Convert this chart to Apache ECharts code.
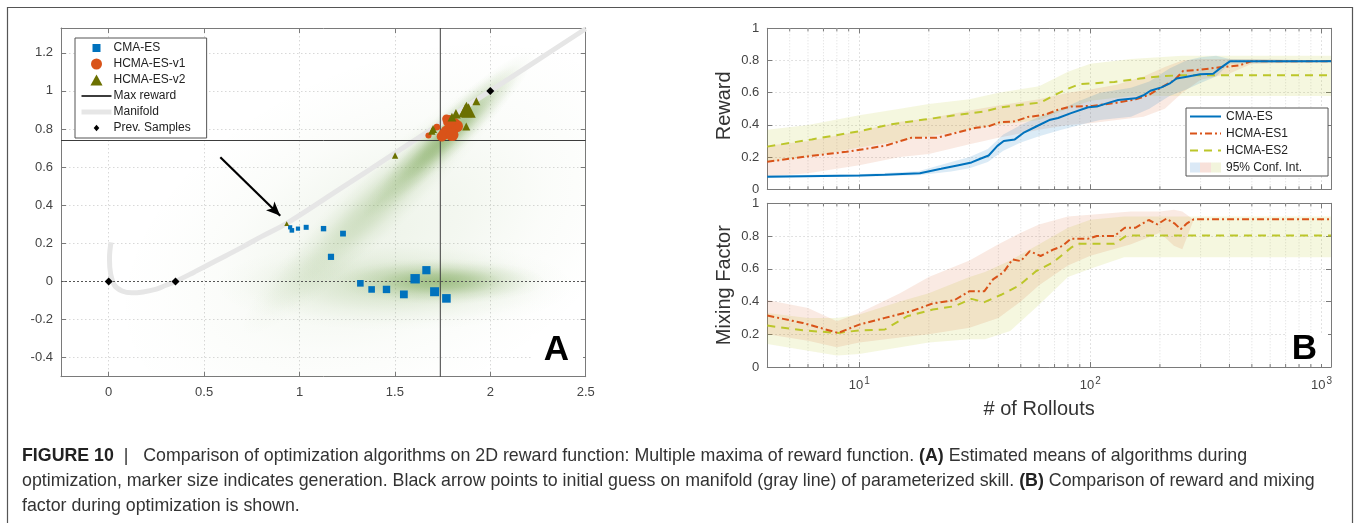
<!DOCTYPE html>
<html><head><meta charset="utf-8">
<script src="https://cdn.jsdelivr.net/npm/echarts@6/dist/echarts.min.js"></script>
<style>html,body{margin:0;padding:0;background:#fff}#c{width:1356px;height:523px}</style>
</head><body><div id="c"></div>
<script>
// ================= Panel A data =================
const xTicksA = [0, 0.5, 1, 1.5, 2, 2.5];
const yTicksA = [-0.4, -0.2, 0, 0.2, 0.4, 0.6, 0.8, 1, 1.2];
const cmaX = [0.951,0.960,0.992,1.035,1.126,1.228,1.165,1.319,1.378,1.456,1.547,1.606,1.665,1.708,1.770];
const cmaY = [0.284,0.268,0.277,0.284,0.277,0.251,0.129,-0.010,-0.042,-0.042,-0.068,0.014,0.059,-0.054,-0.089];
const cmaGen = [1,2,1,3,4,5,6,7,7,9,10,14,11,13,12];
const v1X = [1.676,1.720,1.746,1.770,1.790,1.800,1.815,1.770,1.760,1.825,1.800,1.785];
const v1Y = [0.766,0.810,0.761,0.854,0.820,0.790,0.830,0.790,0.775,0.815,0.770,0.840];
const v1Gen = [1,2,8,5,7,9,8,9,10,11,12,12];
const v2X = [0.933,1.501,1.694,1.700,1.799,1.820,1.874,1.927,1.869,1.886,1.875];
const v2Y = [0.303,0.661,0.789,0.800,0.862,0.880,0.813,0.946,0.897,0.897,0.905];
const v2Gen = [1,3,4,5,6,7,5,5,12,13,13];
const prevX = [0, 0.35, 2.0];
const prevY = [0, 0, 1.0];
const manifoldX = [0.012,0.004,0.010,0.030,0.070,0.120,0.180,0.250,0.300,0.350,0.450,0.570,0.700,0.800,0.933,1.200,1.500,1.750,2.000,2.250,2.500];
const manifoldY = [0.205,0.120,0.040,-0.020,-0.050,-0.060,-0.055,-0.040,-0.020,0.000,0.050,0.112,0.180,0.235,0.305,0.478,0.673,0.836,1.000,1.163,1.326];
const maxRewardX = 1.738, maxRewardY = 0.7356;
const arrowFrom = [0.585, 0.652], arrowTo = [0.899, 0.345];
// reward field (density shading): [cx, cy, spreadAlong, spreadAcross, angleDeg, weight]
const rewardField = [
  [1.45, 0.25, 1.50, 0.90, 25, 0.10],
  [1.50, -0.02, 0.95, 0.24, 0, 0.22],
  [1.74, 0.00, 0.55, 0.12, 0, 0.50],
  [1.42, 0.42, 1.00, 0.17, 44, 0.26],
  [1.78, 0.77, 0.62, 0.11, 44, 0.55]
];

// ================= Panel B data =================
const rolloutTicks = [10, 100, 1000];
const rolloutExp = ['1', '2', '3'];
const minorRollouts = [5,6,7,8,9,20,30,40,50,60,70,80,90,200,300,400,500,600,700,800,900];
const yTicksB = [0, 0.2, 0.4, 0.6, 0.8, 1];

const rollCma = [4,10,12.9,18.3,22.6,26.9,30.6,33.4,36.3,39.6,42.2,47.1,51.3,58.3,66.4,72.5,82.5,97.9,106.7,118.7,132,157,171,182,203,222,236,258,299,340,370,403,1100];
const rewardCma = [0.078,0.086,0.090,0.100,0.127,0.150,0.167,0.190,0.210,0.270,0.300,0.310,0.350,0.390,0.430,0.443,0.473,0.510,0.514,0.535,0.555,0.565,0.586,0.612,0.633,0.660,0.688,0.698,0.714,0.718,0.759,0.796,0.796];
const rollH1 = [4,6.23,8.8,12.9,16.8,21.7,26.9,32,36.3,40.5,47.1,53.5,63.6,72.5,82.5,102,127,157,179,203,231,252,299,370,440,500,1100];
const rewardH1 = [0.171,0.208,0.233,0.270,0.320,0.320,0.355,0.382,0.392,0.416,0.422,0.449,0.463,0.494,0.514,0.518,0.535,0.559,0.586,0.633,0.678,0.735,0.743,0.759,0.769,0.796,0.796];
const rollH2 = [4,6.23,10,13.5,19.1,26.9,34.8,41.4,60.9,72.5,80.7,89.8,127,164,203,241,1100];
const rewardH2 = [0.265,0.310,0.361,0.402,0.433,0.463,0.484,0.510,0.539,0.596,0.627,0.653,0.667,0.688,0.702,0.708,0.708];

const mixRollH1 = [4,5.7,8.1,10,12.9,16.8,20.8,25.8,30,34.8,37.9,42.2,46,50,54.7,60.9,69.3,75.6,82.5,97.9,106.7,127,141,157,179,195,213,231,246,262,280,1100];
const mixH1 = [0.314,0.269,0.208,0.259,0.300,0.341,0.388,0.408,0.463,0.463,0.535,0.580,0.657,0.647,0.708,0.678,0.718,0.739,0.784,0.784,0.800,0.800,0.851,0.851,0.898,0.871,0.906,0.878,0.841,0.878,0.902,0.902];
const mixRollH2 = [4,5.7,8.1,10,12.9,16.1,20.8,25.8,30.6,34.8,41.4,49.2,58.3,69.3,82.5,88.2,127,144,1100];
const mixH2 = [0.253,0.224,0.208,0.224,0.229,0.310,0.351,0.371,0.416,0.396,0.443,0.498,0.586,0.641,0.729,0.753,0.753,0.804,0.804];

// 95% confidence bands: [rollouts, low, high]
const bandRewardCma = [[4,0.074,0.088],[10,0.078,0.094],[18,0.088,0.112],[25,0.11,0.17],[30,0.13,0.2],[36,0.17,0.25],[42,0.24,0.34],[50,0.29,0.4],[60,0.33,0.45],[75,0.37,0.5],[90,0.4,0.55],[110,0.43,0.6],[150,0.45,0.63],[180,0.5,0.67],[220,0.58,0.75],[260,0.62,0.8],[300,0.66,0.82],[350,0.7,0.83],[400,0.78,0.81],[1100,0.79,0.8]];
const bandRewardH1 = [[4,0.08,0.27],[6,0.1,0.3],[10,0.15,0.36],[15,0.2,0.42],[20,0.22,0.44],[30,0.28,0.49],[40,0.32,0.52],[60,0.37,0.56],[80,0.4,0.6],[100,0.41,0.62],[130,0.43,0.65],[170,0.45,0.7],[210,0.5,0.76],[250,0.6,0.8],[300,0.68,0.81],[400,0.72,0.81],[500,0.78,0.81],[1100,0.79,0.8]];
const bandRewardH2 = [[4,0.17,0.37],[6,0.2,0.4],[10,0.26,0.46],[15,0.3,0.5],[20,0.33,0.53],[30,0.37,0.56],[40,0.4,0.6],[60,0.43,0.64],[80,0.5,0.73],[100,0.55,0.78],[150,0.58,0.81],[250,0.58,0.83],[1100,0.58,0.83]];
const bandMixH1 = [[4,0.2,0.41],[6,0.16,0.36],[8,0.12,0.28],[10,0.15,0.33],[15,0.18,0.45],[20,0.2,0.55],[30,0.24,0.65],[40,0.3,0.75],[50,0.4,0.82],[60,0.5,0.87],[80,0.62,0.92],[100,0.68,0.93],[150,0.75,0.95],[200,0.82,0.95],[230,0.74,0.96],[250,0.72,0.95],[280,0.9,0.9],[1100,0.9,0.9]];
const bandMixH2 = [[4,0.14,0.33],[6,0.1,0.3],[8,0.07,0.3],[10,0.08,0.32],[15,0.12,0.4],[20,0.15,0.45],[30,0.17,0.55],[35,0.17,0.58],[45,0.22,0.65],[60,0.38,0.75],[80,0.55,0.85],[100,0.6,0.9],[140,0.67,0.92],[1100,0.67,0.92]];

// ================= styling =================
const FONT = 'Liberation Sans';
const BLUE = '#0072BD', RED = '#D95319', YG = '#BCC62A', OLIVE = '#6B7000';
const AXC = '#7a7a7a', LBL = '#444';
const zip = (a, b, c) => a.map((v, i) => c ? [v, b[i], c[i]] : [v, b[i]]);
const near = (arr, v) => arr.findIndex(t => Math.abs(t - v) < 1e-6 * Math.max(1, Math.abs(t)));

function blobRender(params, api) {
  const c = api.coord([api.value(0), api.value(1)]);
  const along = api.size([api.value(2), 0])[0];
  const across = api.size([api.value(3), 0])[0];
  const w = api.value(5);
  const g = 'rgba(96,148,52,';
  return {
    type: 'circle', x: c[0], y: c[1], rotation: api.value(4) * Math.PI / 180,
    scaleX: along / across, scaleY: 1,
    shape: { cx: 0, cy: 0, r: across },
    style: { fill: { type: 'radial', x: 0.5, y: 0.5, r: 0.5, colorStops: [
      { offset: 0, color: g + w + ')' },
      { offset: 0.3, color: g + (w * 0.72) + ')' },
      { offset: 0.6, color: g + (w * 0.28) + ')' },
      { offset: 0.85, color: g + (w * 0.06) + ')' },
      { offset: 1, color: g + '0)' }] } }
  };
}
function bandRender(band, fill) {
  return function (params, api) {
    if (params.dataIndex !== 0) return null;
    const pts = [];
    band.forEach(p => pts.push(api.coord([p[0], p[2]])));
    for (let i = band.length - 1; i >= 0; i--) pts.push(api.coord([band[i][0], band[i][1]]));
    return { type: 'polygon', shape: { points: pts }, style: { fill: fill } };
  };
}
function minorRender(params, api) {
  const top = api.coord([api.value(0), 1]);
  const bot = api.coord([api.value(0), 0]);
  return { type: 'group', children: [
    { type: 'line', shape: { x1: top[0], y1: top[1], x2: bot[0], y2: bot[1] }, style: { stroke: '#dcdcdc', lineWidth: 1, lineDash: [1, 2] } },
    { type: 'line', shape: { x1: bot[0], y1: bot[1], x2: bot[0], y2: bot[1] - 3 }, style: { stroke: AXC, lineWidth: 1 } },
    { type: 'line', shape: { x1: top[0], y1: top[1], x2: top[0], y2: top[1] + 3 }, style: { stroke: AXC, lineWidth: 1 } }
  ] };
}

const lblA = (ticks) => (v) => { const i = near(ticks, v); return i < 0 ? '' : String(ticks[i]); };
const axisBase = {
  axisLine: { onZero: false, lineStyle: { color: AXC, width: 1 } },
  axisTick: { inside: true, length: 5, lineStyle: { color: AXC } },
  axisLabel: { fontFamily: FONT, fontSize: 13, color: LBL },
  splitLine: { show: false }
};
const mirror = (o) => Object.assign({}, axisBase, o, { axisLabel: { show: false }, splitLine: { show: false } });
const grid = { lineStyle: { color: '#d8d8d8', type: [1.5, 2.5], width: 1 } };

const logX = (gi, pos, extra) => Object.assign({}, axisBase, {
  type: 'log', logBase: 10, min: 4, max: 1100, gridIndex: gi, position: pos,
  axisTick: { inside: true, length: 5, lineStyle: { color: AXC } }
}, extra);

const hidden = { opacity: 0 };
const option = {
  animation: false,
  backgroundColor: '#fff',
  grid: [
    { left: 61, top: 28, width: 524.7, height: 348.7 },
    { left: 767.3, top: 28.3, width: 563.7, height: 161 },
    { left: 767.3, top: 203.3, width: 563.7, height: 163.7 }
  ],
  xAxis: [
    Object.assign({}, axisBase, { type: 'value', gridIndex: 0, min: -0.25, max: 2.5, splitNumber: 5, position: 'bottom',
      axisLabel: { fontFamily: FONT, fontSize: 13, color: LBL, margin: 9, formatter: lblA(xTicksA) }, splitLine: Object.assign({ show: true }, grid) }),
    mirror({ type: 'value', gridIndex: 0, min: -0.25, max: 2.5, splitNumber: 5, position: 'top' }),
    logX(1, 'bottom', { axisLabel: { show: false }, splitLine: Object.assign({ show: true }, grid) }),
    logX(1, 'top', { axisLabel: { show: false } }),
    logX(2, 'bottom', {
      splitLine: Object.assign({ show: true }, grid),
      name: '# of Rollouts', nameLocation: 'middle', nameGap: 32,
      nameTextStyle: { fontFamily: FONT, fontSize: 20, color: '#333', padding: [0, 20, 0, 0] },
      axisLabel: { fontFamily: FONT, color: LBL, margin: 9,
        formatter: (v) => { const i = near(rolloutTicks, v); return i < 0 ? '' : '{b|10}{s|' + rolloutExp[i] + '}'; },
        rich: { b: { fontFamily: FONT, fontSize: 13, color: LBL }, s: { fontFamily: FONT, fontSize: 10, color: LBL, padding: [0, 0, 9, 1] } } }
    }),
    logX(2, 'top', { axisLabel: { show: false } })
  ],
  yAxis: [
    Object.assign({}, axisBase, { type: 'value', gridIndex: 0, min: -0.5, max: 1.33, splitNumber: 9, position: 'left',
      axisLabel: { fontFamily: FONT, fontSize: 13, color: LBL, margin: 8, formatter: lblA(yTicksA) }, splitLine: Object.assign({ show: true }, grid) }),
    mirror({ type: 'value', gridIndex: 0, min: -0.5, max: 1.33, splitNumber: 9, position: 'right' }),
    Object.assign({}, axisBase, { type: 'value', gridIndex: 1, min: 0, max: 1, interval: 0.2, position: 'left',
      axisLabel: { fontFamily: FONT, fontSize: 13, color: LBL, margin: 8, formatter: lblA(yTicksB) }, splitLine: Object.assign({ show: true }, grid),
      name: 'Reward', nameLocation: 'middle', nameGap: 33, nameRotate: 90, nameTextStyle: { fontFamily: FONT, fontSize: 20, color: '#333', padding: [0, 0, 0, 6] } }),
    mirror({ type: 'value', gridIndex: 1, min: 0, max: 1, interval: 0.2, position: 'right' }),
    Object.assign({}, axisBase, { type: 'value', gridIndex: 2, min: 0, max: 1, interval: 0.2, position: 'left',
      axisLabel: { fontFamily: FONT, fontSize: 13, color: LBL, margin: 8, formatter: lblA(yTicksB) }, splitLine: Object.assign({ show: true }, grid),
      name: 'Mixing Factor', nameLocation: 'middle', nameGap: 33, nameRotate: 90, nameTextStyle: { fontFamily: FONT, fontSize: 20, color: '#333' } }),
    mirror({ type: 'value', gridIndex: 2, min: 0, max: 1, interval: 0.2, position: 'right' })
  ],
  legend: [
    { orient: 'vertical', left: 75, top: 38, padding: [3, 16, 3, 4], itemGap: 2, itemWidth: 30, itemHeight: 11,
      backgroundColor: '#fff', borderColor: '#555', borderWidth: 1, selectedMode: false, symbolKeepAspect: true,
      textStyle: { fontFamily: FONT, fontSize: 12, color: '#222', lineHeight: 14, padding: [0, 0, 0, -3] },
      data: [
        { name: 'CMA-ES', icon: 'path://M0,0M11,11M1.5,1.5h8v8h-8z' },
        { name: 'HCMA-ES-v1', icon: 'path://M5.5,0A5.5,5.5,0,1,1,5.49,0z' },
        { name: 'HCMA-ES-v2', icon: 'path://M5.5,0L11,10L0,10z' },
        { name: 'Max reward', itemStyle: hidden },
        { name: 'Manifold', itemStyle: hidden, lineStyle: { width: 5, color: '#e6e6e6' } },
        { name: 'Prev. Samples', icon: 'path://M0,0M11,11M5.5,2.3L8.3,5.5L5.5,8.7L2.7,5.5z' }
      ] },
    { orient: 'vertical', left: 1186, top: 108, padding: [2, 26, 2, 3], itemGap: 4, itemWidth: 31, itemHeight: 10,
      backgroundColor: '#fff', borderColor: '#555', borderWidth: 1, selectedMode: false,
      textStyle: { fontFamily: FONT, fontSize: 12, color: '#222', lineHeight: 13 },
      formatter: (n) => n.trim(),
      data: [{ name: 'CMA-ES ', itemStyle: hidden }, { name: 'HCMA-ES1', itemStyle: hidden }, { name: 'HCMA-ES2', itemStyle: hidden },
        { name: '95% Conf. Int.', icon: 'rect', itemStyle: { color: { type: 'linear', x: 0, y: 0, x2: 1, y2: 0, colorStops: [
        { offset: 0, color: '#dbe9f6' }, { offset: 0.333, color: '#dbe9f6' }, { offset: 0.334, color: '#f8e1da' }, { offset: 0.666, color: '#f8e1da' },
        { offset: 0.667, color: '#f2f4dc' }, { offset: 1, color: '#f2f4dc' }] } } }] }
  ],
  series: [
    // ---------- Panel A ----------
    { type: 'custom', name: 'field', xAxisIndex: 0, yAxisIndex: 0, z: 1, silent: true, clip: true,
      renderItem: blobRender, data: rewardField, encode: { x: 0, y: 1 } },
    { type: 'line', name: 'Manifold', xAxisIndex: 0, yAxisIndex: 0, z: 2, smooth: 0.4, symbol: 'none', silent: true,
      lineStyle: { color: '#e6e6e6', width: 5 }, itemStyle: { color: '#e6e6e6' }, data: zip(manifoldX, manifoldY) },
    { type: 'line', name: 'Max reward', xAxisIndex: 0, yAxisIndex: 0, z: 3, symbol: 'none', silent: true,
      lineStyle: { color: '#3c3c3c', width: 1 }, itemStyle: { color: '#3c3c3c' },
      data: [[maxRewardX, -0.5], [maxRewardX, 1.33]],
      markLine: { silent: true, symbol: ['none', 'none'], label: { show: false }, lineStyle: { color: '#3c3c3c', width: 1, type: 'solid' },
        data: [{ yAxis: maxRewardY }] } },
    { type: 'scatter', name: 'CMA-ES', xAxisIndex: 0, yAxisIndex: 0, z: 5, symbol: 'rect',
      symbolSize: (v) => 3.8 + 0.4 * v[2], itemStyle: { color: BLUE, opacity: 1 }, data: zip(cmaX, cmaY, cmaGen) },
    { type: 'scatter', name: 'HCMA-ES-v1', xAxisIndex: 0, yAxisIndex: 0, z: 5, symbol: 'circle',
      symbolSize: (v) => 5.5 + 0.6 * v[2], itemStyle: { color: RED, opacity: 1 }, data: zip(v1X, v1Y, v1Gen) },
    { type: 'scatter', name: 'HCMA-ES-v2', xAxisIndex: 0, yAxisIndex: 0, z: 5, symbol: 'triangle',
      symbolSize: (v) => 4 + 0.8 * v[2], itemStyle: { color: OLIVE, opacity: 1 }, data: zip(v2X, v2Y, v2Gen) },
    { type: 'scatter', name: 'Prev. Samples', xAxisIndex: 0, yAxisIndex: 0, z: 6, symbol: 'diamond', symbolSize: 8,
      itemStyle: { color: '#000', opacity: 1 }, data: zip(prevX, prevY),
      markLine: { silent: true, symbol: ['none', 'none'], label: { show: false },
        data: [
          { yAxis: 0, lineStyle: { color: '#555', width: 1.2, type: [2, 2] } },
          [{ coord: arrowFrom, symbol: 'none', lineStyle: { color: '#000', width: 2.2, type: 'solid' } },
           { coord: arrowTo, symbol: 'arrow', symbolSize: [9, 14] }]
        ] } },
    // ---------- Panel B : reward ----------
    { type: 'custom', name: 'minorTop', xAxisIndex: 2, yAxisIndex: 2, z: 1, silent: true,
      renderItem: minorRender, data: minorRollouts.map(v => [v, 0]), encode: { x: 0, y: 1 } },
    { type: 'custom', name: '95% Conf. Int.', xAxisIndex: 2, yAxisIndex: 2, z: 2, silent: true,
      itemStyle: { color: '#f2f4dc' },
      renderItem: bandRender(bandRewardH2, 'rgba(191,201,40,0.15)'), data: bandRewardH2.map(p => [p[0], p[2]]), encode: { x: 0, y: 1 } },
    { type: 'custom', name: '95% Conf. Int.', xAxisIndex: 2, yAxisIndex: 2, z: 2, silent: true,
      renderItem: bandRender(bandRewardH1, 'rgba(217,83,25,0.12)'), data: bandRewardH1.map(p => [p[0], p[2]]), encode: { x: 0, y: 1 } },
    { type: 'custom', name: '95% Conf. Int.', xAxisIndex: 2, yAxisIndex: 2, z: 2, silent: true,
      renderItem: bandRender(bandRewardCma, 'rgba(0,114,189,0.14)'), data: bandRewardCma.map(p => [p[0], p[2]]), encode: { x: 0, y: 1 } },
    { type: 'line', name: 'HCMA-ES2', xAxisIndex: 2, yAxisIndex: 2, z: 3, symbol: 'none', silent: true,
      lineStyle: { color: YG, width: 2, type: [8, 6] }, itemStyle: { color: YG }, data: zip(rollH2, rewardH2) },
    { type: 'line', name: 'HCMA-ES1', xAxisIndex: 2, yAxisIndex: 2, z: 3, symbol: 'none', silent: true,
      lineStyle: { color: RED, width: 2, type: [7, 3, 2, 3] }, itemStyle: { color: RED }, data: zip(rollH1, rewardH1) },
    { type: 'line', name: 'CMA-ES ', xAxisIndex: 2, yAxisIndex: 2, z: 4, symbol: 'none', silent: true,
      lineStyle: { color: BLUE, width: 2 }, itemStyle: { color: BLUE }, data: zip(rollCma, rewardCma) },
    // ---------- Panel B : mixing factor ----------
    { type: 'custom', name: 'minorBot', xAxisIndex: 4, yAxisIndex: 4, z: 1, silent: true,
      renderItem: minorRender, data: minorRollouts.map(v => [v, 0]), encode: { x: 0, y: 1 } },
    { type: 'custom', name: '95% Conf. Int.', xAxisIndex: 4, yAxisIndex: 4, z: 2, silent: true,
      renderItem: bandRender(bandMixH2, 'rgba(191,201,40,0.15)'), data: bandMixH2.map(p => [p[0], p[2]]), encode: { x: 0, y: 1 } },
    { type: 'custom', name: '95% Conf. Int.', xAxisIndex: 4, yAxisIndex: 4, z: 2, silent: true,
      renderItem: bandRender(bandMixH1, 'rgba(217,83,25,0.12)'), data: bandMixH1.map(p => [p[0], p[2]]), encode: { x: 0, y: 1 } },
    { type: 'line', name: 'HCMA-ES2', xAxisIndex: 4, yAxisIndex: 4, z: 3, symbol: 'none', silent: true,
      lineStyle: { color: YG, width: 2, type: [8, 6] }, itemStyle: { color: YG }, data: zip(mixRollH2, mixH2) },
    { type: 'line', name: 'HCMA-ES1', xAxisIndex: 4, yAxisIndex: 4, z: 3, symbol: 'none', silent: true,
      lineStyle: { color: RED, width: 2, type: [7, 3, 2, 3] }, itemStyle: { color: RED }, data: zip(mixRollH1, mixH1) }
  ],
  graphic: [
    { type: 'rect', silent: true, z: 0, shape: { x: 7.5, y: 7.5, width: 1345, height: 560 }, style: { fill: 'none', stroke: '#555', lineWidth: 1.2 } },
    { type: 'rect', silent: true, z: 10, shape: { x: 531, y: 334, width: 52, height: 39 }, style: { fill: '#fff' } },
    { type: 'text', silent: true, z: 11, x: 556.5, y: 350, style: { text: 'A', fontFamily: FONT, fontWeight: 'bold', fontSize: 35, fill: '#000', align: 'center', verticalAlign: 'middle' } },
    { type: 'rect', silent: true, z: 10, shape: { x: 1287, y: 333, width: 41, height: 31 }, style: { fill: '#fff' } },
    { type: 'text', silent: true, z: 11, x: 1304.5, y: 349.5, style: { text: 'B', fontFamily: FONT, fontWeight: 'bold', fontSize: 35, fill: '#000', align: 'center', verticalAlign: 'middle' } },
    { type: 'text', silent: true, x: 22, y: 456, style: { verticalAlign: 'middle', fontFamily: FONT, fontSize: 17.8, fill: '#333',
      text: '{b|FIGURE 10}  |   Comparison of optimization algorithms on 2D reward function: Multiple maxima of reward function. {b|(A)} Estimated means of algorithms during',
      rich: { b: { fontFamily: FONT, fontSize: 17.8, fontWeight: 'bold', fill: '#222' } } } },
    { type: 'text', silent: true, x: 22, y: 481, style: { verticalAlign: 'middle', fontFamily: FONT, fontSize: 17.8, fill: '#333',
      text: 'optimization, marker size indicates generation. Black arrow points to initial guess on manifold (gray line) of parameterized skill. {b|(B)} Comparison of reward and mixing',
      rich: { b: { fontFamily: FONT, fontSize: 17.8, fontWeight: 'bold', fill: '#222' } } } },
    { type: 'text', silent: true, x: 22, y: 506, style: { verticalAlign: 'middle', fontFamily: FONT, fontSize: 17.8, fill: '#333',
      text: 'factor during optimization is shown.' } }
  ]
};
const chart = echarts.init(document.getElementById('c'), null, { renderer: 'canvas' });
chart.setOption(option);
</script></body></html>
